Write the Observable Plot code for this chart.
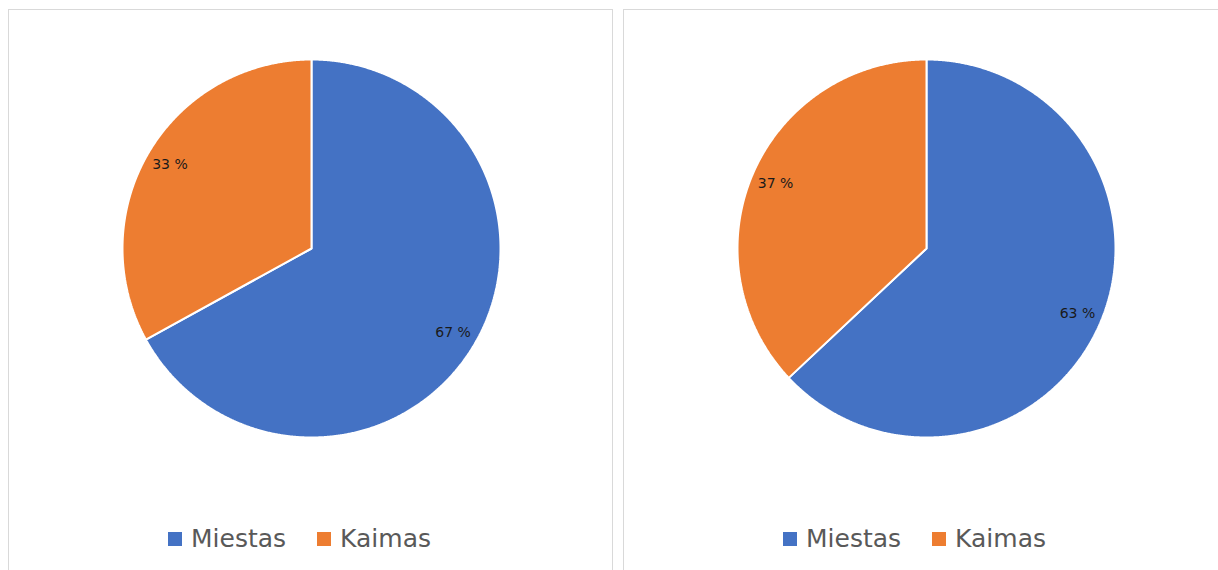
<!DOCTYPE html>
<html>
<head>
<meta charset="utf-8">
<script src="https://cdn.jsdelivr.net/npm/d3@7"></script>
<script src="https://cdn.jsdelivr.net/npm/@observablehq/plot@0.6"></script>
<style>
  html, body { margin: 0; padding: 0; background: #fff; width: 1218px; height: 570px; overflow: hidden; }
  body { position: relative; font-family: "DejaVu Sans", sans-serif; }
  .panel { position: absolute; border: 1px solid #d9d9d9; box-sizing: border-box; background: #fff; }
  .chart { position: absolute; }
  .legend { position: absolute; display: flex; align-items: center; font-family: "DejaVu Sans", sans-serif; font-size: 25px; color: #595959; white-space: nowrap; }
  .legend .sw { width: 14px; height: 14px; display: inline-block; margin-right: 9px; }
  .legend .item { display: flex; align-items: center; margin-right: 31px; }
</style>
</head>
<body>
<div class="panel" style="left:8px; top:9px; width:605px; height:600px;"></div>
<div class="panel" style="left:623px; top:9px; width:620px; height:600px;"></div>
<div id="c1" class="chart" style="left:8px; top:9px;"></div>
<div id="c2" class="chart" style="left:623px; top:9px;"></div>
<div id="l1" class="legend" style="left:168px; top:524px;"></div>
<div id="l2" class="legend" style="left:783px; top:524px;"></div>
<script>
const categories = ["Miestas", "Kaimas"];
const chart1Values = [67, 33];
const chart2Values = [63, 37];
const colors = ["#4472C4", "#ED7D31"];

function pieChart(values, width, marginRight) {
  const rows = categories.map((name, i) => ({name, value: values[i]}));
  const arcs = d3.pie().sort(null).value(d => d.value)(rows);
  const pts = [];
  const labels = [];
  for (const a of arcs) {
    const name = a.data.name;
    pts.push({name, x: 0, y: 0});
    const n = Math.max(2, Math.ceil((a.endAngle - a.startAngle) / 0.005));
    for (let k = 0; k <= n; k++) {
      const t = a.startAngle + (a.endAngle - a.startAngle) * k / n;
      pts.push({name, x: Math.sin(t), y: Math.cos(t)});
    }
    pts.push({name, x: 0, y: 0});
    const m = (a.startAngle + a.endAngle) / 2;
    labels.push({name, x: 0.87 * Math.sin(m), y: 0.87 * Math.cos(m), text: a.data.value + " %"});
  }
  return Plot.plot({
    width, height: 440,
    marginLeft: 114, marginRight, marginTop: 50, marginBottom: 12,
    x: {domain: [-1, 1], axis: null},
    y: {domain: [-1, 1], axis: null},
    color: {domain: categories, range: colors},
    style: {background: "transparent", overflow: "visible"},
    marks: [
      Plot.line(pts, {x: "x", y: "y", z: "name", fill: "name", stroke: "#ffffff", strokeWidth: 2, strokeLinejoin: "miter"}),
      Plot.text(labels, {x: "x", y: "y", text: "text", fill: "#1a1a1a", fontSize: 14, fontFamily: "DejaVu Sans"})
    ]
  });
}

function legend(el) {
  categories.forEach((c, i) => {
    const item = document.createElement("span");
    item.className = "item";
    const sw = document.createElement("span");
    sw.className = "sw";
    sw.style.background = colors[i];
    item.appendChild(sw);
    item.appendChild(document.createTextNode(c));
    el.appendChild(item);
  });
}

document.getElementById("c1").appendChild(pieChart(chart1Values, 604, 112));
document.getElementById("c2").appendChild(pieChart(chart2Values, 595, 103));
legend(document.getElementById("l1"));
legend(document.getElementById("l2"));
</script>
</body>
</html>
